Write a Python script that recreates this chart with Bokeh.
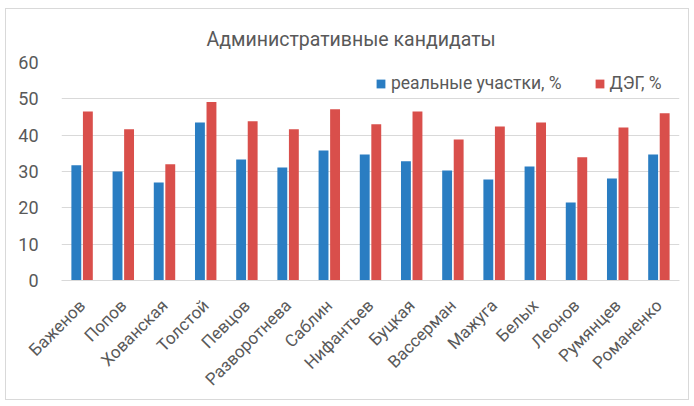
import math
from bokeh.plotting import figure
from bokeh.models import ColumnDataSource, FactorRange, Legend, LegendItem, Title
from bokeh.transform import dodge
from bokeh.embed import file_html
from bokeh.resources import INLINE

candidates = ["Баженов", "Попов", "Хованская", "Толстой", "Певцов", "Разворотнева",
              "Саблин", "Нифантьев", "Буцкая", "Вассерман", "Мажуга", "Белых",
              "Леонов", "Румянцев", "Романенко"]
real_pct = [31.7, 30.0, 27.0, 43.5, 33.3, 31.1, 35.8, 34.7, 32.8, 30.3, 27.8, 31.4, 21.5, 28.1, 34.7]
deg_pct = [46.5, 41.6, 32.0, 49.1, 43.8, 41.6, 47.1, 43.0, 46.5, 38.8, 42.4, 43.5, 33.9, 42.1, 46.0]
y_ticks = [0, 10, 20, 30, 40, 50, 60]
title_text = "Административные кандидаты"
series_names = ["реальные участки, %", "ДЭГ, %"]

BLUE = "#2A7DC2"
RED = "#D94F4B"
TXT = "#595959"
FONT = "Roboto"

src = ColumnDataSource(dict(cat=candidates, real=real_pct, deg=deg_pct))

p = figure(x_range=FactorRange(*candidates, range_padding=0.0), y_range=(0, 60),
           frame_width=618, frame_height=218, output_backend="svg", toolbar_location=None,
           min_border_left=55, min_border_right=9, min_border_top=53, min_border_bottom=115)
p.styles = {"border": "1px solid #D9D9D9", "margin-left": "5px", "margin-top": "8px"}

r1 = p.vbar(x=dodge("cat", -0.14, range=p.x_range), top="real", width=0.24, source=src,
            fill_color=BLUE, line_color=None)
r2 = p.vbar(x=dodge("cat", 0.14, range=p.x_range), top="deg", width=0.24, source=src,
            fill_color=RED, line_color=None)

t = Title(text=title_text, align="left", text_font=FONT, text_font_size="19.5px",
          text_color=TXT, text_font_style="normal", offset=145, standoff=23)
p.add_layout(t, "above")

p.outline_line_color = None
p.xgrid.grid_line_color = None
p.ygrid.grid_line_color = "#D9D9D9"
p.ygrid.grid_line_width = 1
p.yaxis.ticker = y_ticks
p.yaxis.axis_line_color = None
p.yaxis.major_tick_line_color = None
p.yaxis.minor_tick_line_color = None
p.yaxis.major_label_text_font = FONT
p.yaxis.major_label_text_font_size = "18px"
p.yaxis.major_label_text_color = TXT
p.yaxis.major_label_standoff = 17

p.xaxis.axis_line_color = "#D9D9D9"
p.xaxis.major_tick_line_color = None
p.xaxis.minor_tick_line_color = None
p.xaxis.major_label_orientation = math.pi / 4
p.xaxis.major_label_text_font = FONT
p.xaxis.major_label_text_font_size = "17px"
p.xaxis.major_label_text_color = TXT
p.xaxis.major_label_standoff = 16

legend = Legend(items=[LegendItem(label=series_names[0], renderers=[r1]),
                       LegendItem(label=series_names[1], renderers=[r2])],
                orientation="horizontal", location=(314, 187),
                label_text_font=FONT, label_text_font_size="17.5px", label_text_color=TXT,
                glyph_width=11, glyph_height=11, spacing=32, label_standoff=5,
                padding=0, margin=0, border_line_color=None, background_fill_alpha=0)
p.add_layout(legend)

open("out.html", "w").write(file_html(p, INLINE))
